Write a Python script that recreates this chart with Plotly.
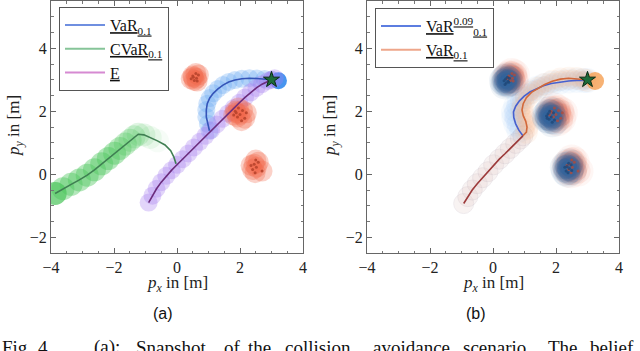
import plotly.graph_objects as go
import numpy as np

# ---------------- panel (a) data ----------------
e_x = [-0.90, -0.78, -0.65, -0.50, -0.34, -0.17, 0.00, 0.18, 0.36, 0.54, 0.72, 0.90,
       1.08, 1.26, 1.44, 1.62, 1.80, 1.98, 2.16, 2.34, 2.52, 2.70, 2.88, 3.00, 3.10]
e_y = [-0.90, -0.68, -0.46, -0.25, -0.05, 0.13, 0.30, 0.48, 0.66, 0.85, 1.03, 1.22,
       1.40, 1.58, 1.76, 1.93, 2.10, 2.27, 2.44, 2.60, 2.74, 2.86, 2.96, 3.00, 3.05]

var_x = [1.03, 0.98, 0.93, 0.93, 0.96, 1.04, 1.15, 1.30, 1.46, 1.64, 1.84, 2.06,
         2.30, 2.54, 2.78, 3.00]
var_y = [1.38, 1.60, 1.82, 2.04, 2.24, 2.42, 2.57, 2.71, 2.83, 2.93, 2.99, 3.03,
         3.05, 3.04, 3.02, 3.00]
var_end_a = (3.22, 2.97)

cvar_x = [-3.87, -3.62, -3.36, -3.10, -2.85, -2.62, -2.39, -2.18, -1.98, -1.81, -1.64,
          -1.49, -1.36, -1.23, -1.05, -0.85, -0.62, -0.38, -0.20, -0.10, -0.03]
cvar_y = [-0.61, -0.46, -0.32, -0.18, -0.03, 0.14, 0.33, 0.50, 0.67, 0.82, 0.96,
          1.08, 1.19, 1.27, 1.25, 1.17, 1.06, 0.93, 0.75, 0.55, 0.33]

goal = (3.0, 3.0)

# obstacle belief samples (red)
obs_red_x = [[0.50, 0.62, 0.55, 0.68, 0.45, 0.60, 0.52, 0.64],
             [1.85, 2.00, 1.92, 2.08, 1.80, 2.15, 1.95, 2.05, 1.88, 2.20],
             [2.45, 2.52, 2.40, 2.58, 2.50, 2.35, 2.70, 2.48]]
obs_red_y = [[3.12, 3.05, 2.98, 3.15, 3.03, 3.20, 3.08, 2.96],
             [2.00, 1.90, 1.82, 2.02, 1.88, 1.78, 2.10, 1.70, 1.95, 1.95],
             [0.32, 0.22, 0.15, 0.38, 0.45, 0.28, 0.10, 0.05]]

# ---------------- panel (b) data ----------------
shared_x = [-0.93, -0.80, -0.66, -0.50, -0.33, -0.16, 0.02, 0.20, 0.38, 0.55, 0.72, 0.87, 0.95]
shared_y = [-0.93, -0.71, -0.50, -0.30, -0.11, 0.08, 0.30, 0.48, 0.65, 0.82, 0.98, 1.12, 1.22]

varq_x = [0.82, 0.72, 0.66, 0.65, 0.72, 0.84, 0.99, 1.17, 1.38, 1.60, 1.85, 2.12,
          2.40, 2.66, 2.88, 3.00]
varq_y = [1.40, 1.60, 1.80, 1.98, 2.16, 2.33, 2.48, 2.61, 2.72, 2.81, 2.88, 2.93,
          2.96, 2.98, 2.98, 2.98]

varb_x = [1.06, 1.08, 1.04, 0.96, 0.92, 0.96, 1.06, 1.22, 1.42, 1.64, 1.88, 2.14,
          2.40, 2.65, 2.86, 3.00]
varb_y = [1.34, 1.50, 1.68, 1.86, 2.04, 2.24, 2.43, 2.60, 2.73, 2.85, 2.95, 3.02,
          3.05, 3.04, 3.01, 2.98]
varb_end = (3.24, 2.96)

obs_blue_x = [[0.40, 0.48, 0.42, 0.52, 0.35, 0.46, 0.38, 0.50],
              [1.75, 1.85, 1.78, 1.92, 1.70, 1.95, 1.80, 1.88, 1.72],
              [2.35, 2.42, 2.32, 2.48, 2.40, 2.28, 2.50, 2.38]]
obs_blue_y = [[3.02, 2.95, 2.90, 3.05, 2.97, 3.08, 2.85, 2.92],
              [1.92, 1.82, 1.75, 1.95, 1.85, 1.72, 2.00, 1.65, 1.78],
              [0.25, 0.18, 0.10, 0.30, 0.35, 0.22, 0.12, 0.05]]

# ---------------- labels ----------------
legend_a = ["<u>VaR<sub>0.1</sub></u>", "<u>CVaR<sub>0.1</sub></u>", "<u>E</u>"]
legend_b = ["<u>VaR<sup>0.09</sup><sub>0.1</sub></u>", "<u>VaR<sub>0.1</sub></u>"]
xticks = [-4, -2, 0, 2, 4]
yticks = [-2, 0, 2, 4]

SERIF = "Liberation Serif"
fig = go.Figure()

def flat(a):
    return [v for sub in a for v in sub]

# ===== panel (a) =====
XA, YA = "x", "y"
n = len(cvar_x)
op_g = [0.42] * 9 + list(np.linspace(0.34, 0.05, 8)) + [0, 0, 0, 0]
fig.add_trace(go.Scatter(x=cvar_x, y=cvar_y, mode="markers", xaxis=XA, yaxis=YA,
                         marker=dict(size=23, color="#4cc65c", opacity=op_g[:n], line=dict(width=0)),
                         showlegend=False, hoverinfo="skip"))
fig.add_trace(go.Scatter(x=cvar_x[:1], y=cvar_y[:1], mode="markers", xaxis=XA, yaxis=YA,
                         marker=dict(size=23, color="#4cc65c", opacity=0.5),
                         showlegend=False, hoverinfo="skip"))
fig.add_trace(go.Scatter(x=var_x, y=var_y, mode="markers", xaxis=XA, yaxis=YA,
                         marker=dict(size=18, color="#62a4f2", opacity=0.3, line=dict(width=0)),
                         showlegend=False, hoverinfo="skip"))
fig.add_trace(go.Scatter(x=[var_end_a[0]], y=[var_end_a[1]], mode="markers", xaxis=XA, yaxis=YA,
                         marker=dict(size=17, color="#3d8fee", opacity=0.95),
                         showlegend=False, hoverinfo="skip"))
fig.add_trace(go.Scatter(x=e_x, y=e_y, mode="markers", xaxis=XA, yaxis=YA,
                         marker=dict(size=18, color="#a47cf0", opacity=0.32, line=dict(width=0)),
                         showlegend=False, hoverinfo="skip"))
fig.add_trace(go.Scatter(x=flat(obs_red_x), y=flat(obs_red_y), mode="markers", xaxis=XA, yaxis=YA,
                         marker=dict(size=21, color="#f3664a", opacity=0.3, line=dict(width=0)),
                         showlegend=False, hoverinfo="skip"))
fig.add_trace(go.Scatter(x=flat(obs_red_x), y=flat(obs_red_y), mode="markers", xaxis=XA, yaxis=YA,
                         marker=dict(size=3, color="#b8442c", opacity=0.9),
                         showlegend=False, hoverinfo="skip"))
fig.add_trace(go.Scatter(x=cvar_x, y=cvar_y, mode="lines", xaxis=XA, yaxis=YA,
                         line=dict(color="#3f7f52", width=1.6), showlegend=False, hoverinfo="skip"))
fig.add_trace(go.Scatter(x=var_x, y=var_y, mode="lines", xaxis=XA, yaxis=YA,
                         line=dict(color="#3454b8", width=1.6), showlegend=False, hoverinfo="skip"))
fig.add_trace(go.Scatter(x=e_x[:-1], y=e_y[:-1], mode="lines", xaxis=XA, yaxis=YA,
                         line=dict(color="#6b2c7c", width=1.6), showlegend=False, hoverinfo="skip"))
fig.add_trace(go.Scatter(x=[goal[0]], y=[goal[1]], mode="markers", xaxis=XA, yaxis=YA,
                         marker=dict(symbol="star", size=12, color="#1d6b3a", line=dict(color="#0a2a14", width=1)),
                         showlegend=False, hoverinfo="skip"))
for i, (name, col) in enumerate(zip(legend_a, ["#6f8fe0", "#86c498", "#d68ad2"])):
    fig.add_trace(go.Scatter(x=[None], y=[None], mode="lines", xaxis=XA, yaxis=YA, name=name,
                             legendgroup="a%d" % i,
                             line=dict(color=col, width=2), legend="legend"))

# ===== panel (b) =====
XB, YB = "x2", "y2"
fig.add_trace(go.Scatter(x=shared_x, y=shared_y, mode="markers", xaxis=XB, yaxis=YB,
                         marker=dict(size=20, color="#e2cac6", opacity=0.22,
                                     line=dict(color="#b9a6b2", width=1)),
                         showlegend=False, hoverinfo="skip"))
for s, o in [(25, 0.08), (19, 0.12)]:
    fig.add_trace(go.Scatter(x=varq_x, y=varq_y, mode="markers", xaxis=XB, yaxis=YB,
                             marker=dict(size=s, color="#8bbcf4", opacity=o, line=dict(width=0)),
                             showlegend=False, hoverinfo="skip"))
for s, o in [(23, 0.1), (17, 0.14)]:
    fig.add_trace(go.Scatter(x=varb_x, y=varb_y, mode="markers", xaxis=XB, yaxis=YB,
                             marker=dict(size=s, color="#f7b184", opacity=o, line=dict(width=0)),
                             showlegend=False, hoverinfo="skip"))
fig.add_trace(go.Scatter(x=[varb_end[0]], y=[varb_end[1]], mode="markers", xaxis=XB, yaxis=YB,
                         marker=dict(size=18, color="#f6a45c", opacity=0.85),
                         showlegend=False, hoverinfo="skip"))
for s, o in [(31, 0.06), (25, 0.1), (18, 0.14)]:
    fig.add_trace(go.Scatter(x=flat(obs_red_x), y=flat(obs_red_y), mode="markers", xaxis=XB, yaxis=YB,
                             marker=dict(size=s, color="#f0684c", opacity=o, line=dict(width=0)),
                             showlegend=False, hoverinfo="skip"))
for s, o in [(30, 0.07), (24, 0.12), (17, 0.2)]:
    fig.add_trace(go.Scatter(x=flat(obs_blue_x), y=flat(obs_blue_y), mode="markers", xaxis=XB, yaxis=YB,
                             marker=dict(size=s, color="#2f62a0", opacity=o, line=dict(width=0)),
                             showlegend=False, hoverinfo="skip"))
fig.add_trace(go.Scatter(x=flat(obs_red_x), y=flat(obs_red_y), mode="markers", xaxis=XB, yaxis=YB,
                         marker=dict(size=3, color="#b04a3a", opacity=0.8),
                         showlegend=False, hoverinfo="skip"))
fig.add_trace(go.Scatter(x=flat(obs_blue_x), y=flat(obs_blue_y), mode="markers", xaxis=XB, yaxis=YB,
                         marker=dict(size=3, color="#1f4778", opacity=0.8),
                         showlegend=False, hoverinfo="skip"))
fig.add_trace(go.Scatter(x=shared_x[-1:] + varq_x, y=shared_y[-1:] + varq_y, mode="lines", xaxis=XB, yaxis=YB,
                         line=dict(color="#4660d0", width=1.6), showlegend=False, hoverinfo="skip"))
fig.add_trace(go.Scatter(x=shared_x[-1:] + varb_x, y=shared_y[-1:] + varb_y, mode="lines", xaxis=XB, yaxis=YB,
                         line=dict(color="#d2683a", width=1.6), showlegend=False, hoverinfo="skip"))
fig.add_trace(go.Scatter(x=shared_x, y=shared_y, mode="lines", xaxis=XB, yaxis=YB,
                         line=dict(color="#9c3a3a", width=1.6), showlegend=False, hoverinfo="skip"))
fig.add_trace(go.Scatter(x=[goal[0]], y=[goal[1]], mode="markers", xaxis=XB, yaxis=YB,
                         marker=dict(symbol="star", size=12, color="#1d6b3a", line=dict(color="#0a2a14", width=1)),
                         showlegend=False, hoverinfo="skip"))
for i, (name, col) in enumerate(zip(legend_b, ["#5c7de0", "#eea68a"])):
    fig.add_trace(go.Scatter(x=[None], y=[None], mode="lines", xaxis=XB, yaxis=YB, name=name,
                             legendgroup="b%d" % i,
                             line=dict(color=col, width=2), legend="legend2"))

# ---------------- layout ----------------
W, H = 640, 351
def px_x(p): return p / W
def px_y(p): return 1 - p / H

axis_common = dict(showgrid=False, zeroline=False, showline=True, linecolor="#666", linewidth=1,
                   mirror="allticks", ticks="inside", ticklen=5, tickcolor="#666", automargin=False,
                   tickfont=dict(family=SERIF, size=16, color="#222"),
                   minor=dict(ticks="inside", ticklen=2.5, tickcolor="#777", dtick=0.5))

fig.update_layout(
    width=W, height=H, margin=dict(l=0, r=0, t=0, b=0, autoexpand=False),
    paper_bgcolor="white", plot_bgcolor="white",
    xaxis=dict(domain=[px_x(51), px_x(303)], range=[-4, 4], tickvals=xticks, anchor="y", **axis_common),
    yaxis=dict(domain=[px_y(253), px_y(1)], range=[-2.5, 5.5], tickvals=yticks, anchor="x", **axis_common),
    xaxis2=dict(domain=[px_x(367), px_x(619)], range=[-4, 4], tickvals=xticks, anchor="y2", **axis_common),
    yaxis2=dict(domain=[px_y(253), px_y(1)], range=[-2.5, 5.5], tickvals=yticks, anchor="x2", **axis_common),
    legend=dict(x=px_x(59), y=px_y(7), xanchor="left", yanchor="top", bgcolor="white",
                bordercolor="#555", borderwidth=1, font=dict(family=SERIF, size=16, color="#111"),
                tracegroupgap=0, itemwidth=40),
    legend2=dict(x=px_x(375), y=px_y(8), xanchor="left", yanchor="top", bgcolor="white",
                 bordercolor="#555", borderwidth=1, font=dict(family=SERIF, size=16, color="#111"),
                 tracegroupgap=0, itemwidth=40),
)

title_font = dict(family=SERIF, size=17, color="#222")
xt = "<i>p</i><sub><i>x</i></sub> in [m]"
yt = "<i>p</i><sub><i>y</i></sub> in [m]"
ann = [
    dict(text=xt, x=px_x(177), y=px_y(284), textangle=0),
    dict(text=xt, x=px_x(493), y=px_y(284), textangle=0),
    dict(text=yt, x=px_x(15), y=px_y(126), textangle=-90),
    dict(text=yt, x=px_x(331), y=px_y(126), textangle=-90),
]
for a in ann:
    fig.add_annotation(xref="paper", yref="paper", showarrow=False, xanchor="center", yanchor="middle",
                       font=title_font, **a)

sub_font = dict(family="Liberation Sans", size=16, color="#111")
fig.add_annotation(text="(a)", x=px_x(163), y=px_y(313), xref="paper", yref="paper", showarrow=False,
                   font=sub_font, xanchor="center", yanchor="middle")
fig.add_annotation(text="(b)", x=px_x(476), y=px_y(313), xref="paper", yref="paper", showarrow=False,
                   font=sub_font, xanchor="center", yanchor="middle")

caption_words = ["Fig.", "4.", "(a):", "Snapshot", "of", "the", "collision", "avoidance", "scenario.", "The", "belief"]
caption_x = [0, 36, 92, 134, 222, 246, 283, 371, 461, 546, 588]
cap_font = dict(family=SERIF, size=19, color="#111")
for w, xp in zip(caption_words, caption_x):
    fig.add_annotation(text=w, x=px_x(xp), y=px_y(347), xref="paper", yref="paper", showarrow=False,
                       font=cap_font, xanchor="left", yanchor="middle")

fig.write_html("out.html", config={"displayModeBar": False},
               post_script="document.body.style.margin='0';document.body.style.padding='0';"
                           "document.body.style.overflow='hidden';")
